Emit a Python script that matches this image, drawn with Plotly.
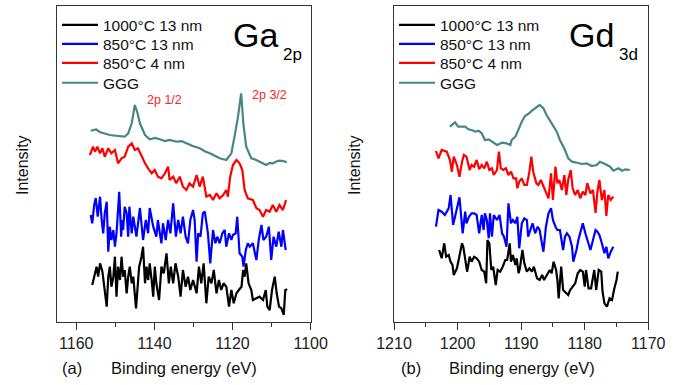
import plotly.graph_objects as go

# ---------------- data: panel (a) Ga 2p ----------------
ga_ggg_x = [1156.3, 1154.9, 1154.0, 1153.1, 1151.4, 1149.3, 1147.6, 1146.7, 1145.8, 1145.0, 1144.4, 1143.7,
            1142.4, 1141.2, 1139.8, 1138.6, 1137.3, 1136.1, 1134.3, 1133.0, 1131.8, 1130.2, 1128.4, 1127.0,
            1125.8, 1124.5, 1123.3, 1121.6, 1120.3, 1119.5, 1118.6, 1117.8, 1117.2, 1116.5, 1115.2, 1114.2,
            1113.1, 1111.4, 1110.5, 1109.7, 1108.8, 1108.0, 1107.0, 1106.1]
ga_ggg_y = [191.3, 192.5, 190.0, 188.7, 187.0, 186.0, 185.3, 188.7, 198.7, 217.0, 210.0, 198.7,
            187.0, 182.7, 184.0, 182.7, 181.0, 182.0, 180.3, 180.8, 178.7, 176.0, 173.7, 170.5,
            168.7, 166.0, 163.7, 162.0, 168.7, 185.3, 205.3, 228.7, 197.0, 175.3, 163.7, 162.5,
            160.3, 157.0, 159.0, 158.7, 160.5, 161.3, 160.8, 159.7]

ga_red_x = [1156.5, 1155.7, 1155.2, 1154.6, 1153.9, 1153.3, 1152.7, 1151.8, 1151.0, 1150.1, 1149.3, 1148.4,
            1147.6, 1146.7, 1145.8, 1145.0, 1144.2, 1143.3, 1142.4, 1141.6, 1140.7, 1139.9, 1139.1, 1138.2,
            1137.3, 1136.5, 1136.1, 1135.2, 1134.4, 1133.5, 1132.7, 1131.8, 1131.0, 1130.1, 1129.2, 1128.4,
            1127.6, 1126.7, 1125.8, 1125.0, 1124.1, 1123.3, 1122.4, 1121.6, 1121.2, 1120.6, 1119.9, 1119.0,
            1118.2, 1117.5, 1116.9, 1116.1, 1114.8, 1113.9, 1113.1, 1112.2, 1111.4, 1110.5, 1109.7, 1108.8,
            1108.0, 1107.1, 1106.3]
ga_red_y = [167.0, 175.3, 170.3, 175.3, 168.7, 173.7, 165.3, 173.7, 168.7, 172.0, 158.7, 163.7,
            165.3, 175.3, 178.7, 172.0, 173.7, 165.3, 158.7, 153.7, 148.7, 152.0, 145.3, 143.7,
            148.7, 155.3, 142.0, 145.3, 138.7, 145.3, 135.3, 132.0, 138.7, 135.3, 147.0, 135.3,
            145.3, 125.3, 127.0, 122.0, 128.7, 123.7, 127.0, 132.0, 125.3, 145.3, 157.0, 162.0,
            158.7, 152.0, 132.0, 123.7, 122.0, 113.7, 112.0, 105.3, 112.0, 110.3, 117.0, 110.3,
            117.0, 112.0, 122.0]

ga_blue_x = [1156.3, 1155.9, 1155.4, 1155.0, 1154.5, 1153.9, 1153.5, 1153.1, 1152.7, 1152.2, 1151.8, 1151.4,
             1151.0, 1150.5, 1150.1, 1149.7, 1149.3, 1149.0, 1148.5, 1148.2, 1148.0, 1147.6, 1147.1, 1146.7,
             1146.4, 1145.8, 1145.4, 1144.6, 1143.7, 1143.3, 1142.9, 1142.2, 1141.6, 1141.2, 1140.3, 1139.5,
             1139.1, 1138.6, 1138.2, 1137.8, 1137.1, 1136.5, 1135.9, 1135.2, 1134.5, 1133.9, 1133.3, 1132.7,
             1132.0, 1131.4, 1130.8, 1130.1, 1129.7, 1129.2, 1128.8, 1128.2, 1127.6, 1127.1, 1126.7, 1126.3,
             1125.7, 1125.0, 1124.4, 1123.9, 1123.3, 1122.6, 1122.0, 1121.6, 1120.9, 1120.3, 1119.9, 1119.2,
             1118.8, 1118.2, 1117.5, 1117.2, 1116.6, 1116.1, 1115.6, 1114.8, 1113.9, 1113.3, 1112.6, 1112.1,
             1111.4, 1110.7, 1110.1, 1109.5, 1108.8, 1108.2, 1107.5, 1107.1, 1106.4]
ga_blue_y = [107.0, 98.7, 117.0, 124.0, 105.3, 125.3, 102.0, 88.7, 108.7, 120.3, 70.3, 95.3,
             82.0, 92.0, 75.3, 88.7, 112.0, 130.3, 85.3, 102.0, 92.0, 115.3, 108.7, 85.3,
             115.3, 88.7, 105.3, 85.3, 114.0, 95.3, 82.0, 102.0, 88.7, 114.0, 95.3, 85.3,
             102.0, 88.7, 78.7, 98.7, 82.0, 102.0, 88.7, 118.7, 85.3, 102.0, 88.7, 105.3,
             85.3, 78.7, 102.0, 112.0, 102.0, 60.3, 88.7, 85.3, 108.7, 110.3, 98.7, 88.7,
             58.7, 92.0, 78.7, 85.3, 78.7, 88.7, 92.0, 75.3, 88.7, 82.0, 87.0, 88.7,
             105.3, 68.7, 65.3, 55.3, 72.0, 78.7, 75.3, 78.7, 62.0, 82.0, 97.0, 82.0,
             85.3, 95.3, 62.0, 85.3, 75.3, 90.3, 75.3, 92.0, 72.0]

ga_black_x = [1155.9, 1155.2, 1154.8, 1154.4, 1153.9, 1153.3, 1152.8, 1152.2, 1151.8, 1151.4, 1151.0, 1150.5,
              1150.1, 1149.7, 1149.3, 1148.8, 1148.4, 1148.0, 1147.6, 1147.1, 1146.7, 1146.3, 1145.8, 1145.4,
              1144.7, 1144.3, 1143.9, 1143.3, 1142.9, 1142.4, 1142.0, 1141.6, 1141.2, 1140.7, 1140.3, 1139.9,
              1139.5, 1138.8, 1138.2, 1137.6, 1136.9, 1136.3, 1135.8, 1135.2, 1134.6, 1133.9, 1133.3, 1132.7,
              1132.0, 1131.4, 1130.8, 1130.1, 1129.2, 1128.6, 1128.0, 1127.4, 1126.7, 1126.1, 1125.4, 1124.8,
              1124.1, 1123.5, 1122.9, 1122.3, 1121.6, 1120.9, 1120.3, 1119.7, 1119.0, 1118.4, 1117.7, 1117.3,
              1116.9, 1116.5, 1115.9, 1115.2, 1114.8, 1113.9, 1113.1, 1112.2, 1111.5, 1111.1, 1110.5, 1109.9,
              1109.2, 1108.7, 1108.1, 1107.5, 1106.9, 1106.5, 1106.0]
ga_black_y = [37.0, 50.3, 55.3, 45.3, 58.7, 50.3, 32.0, 15.3, 45.3, 55.3, 35.3, 45.3,
              65.3, 25.3, 55.3, 42.0, 65.3, 45.3, 52.0, 28.7, 45.3, 55.3, 38.7, 45.3,
              13.7, 38.7, 55.3, 65.3, 75.3, 38.7, 55.3, 42.0, 58.7, 42.0, 25.3, 55.3,
              38.7, 22.0, 55.3, 48.7, 68.7, 38.7, 55.3, 38.7, 58.7, 45.3, 25.3, 52.0,
              35.3, 45.3, 32.0, 42.0, 28.7, 55.3, 38.7, 58.7, 18.7, 45.3, 38.7, 52.0,
              28.7, 42.0, 32.0, 38.7, 35.3, 15.3, 32.0, 18.7, 28.7, 32.0, 35.3, 52.0,
              45.3, 58.7, 38.7, 32.0, 22.0, 23.7, 25.3, 22.0, 32.0, 15.3, 12.0, 32.0,
              45.3, 28.7, 15.3, 13.7, 7.0, 32.0, 32.7]

# ---------------- data: panel (b) Gd 3d ----------------
gd_ggg_x = [1201.2, 1200.4, 1199.9, 1198.8, 1198.3, 1197.8, 1197.2, 1196.7, 1196.2, 1195.7, 1195.1, 1194.4,
            1193.8, 1193.0, 1192.3, 1191.7, 1191.5, 1190.9, 1190.4, 1189.9, 1189.4, 1188.9, 1188.3, 1187.8,
            1187.1, 1186.5, 1186.0, 1185.2, 1184.4, 1183.9, 1183.1, 1182.6, 1182.0, 1181.2, 1180.4, 1179.7,
            1178.9, 1178.1, 1177.6, 1176.8, 1176.0, 1175.5, 1174.7, 1174.1, 1173.6, 1172.9]
gd_ggg_y = [195.3, 199.7, 195.3, 195.3, 192.7, 192.0, 190.3, 191.3, 188.7, 182.0, 182.7, 179.3,
            177.0, 179.3, 178.7, 177.0, 182.0, 185.3, 193.7, 200.3, 206.0, 208.0, 211.3, 213.7,
            217.0, 213.7, 207.0, 198.7, 190.3, 182.0, 172.0, 163.7, 160.3, 159.3, 158.0, 158.7,
            156.0, 157.0, 160.3, 158.0, 155.3, 151.3, 153.7, 151.3, 152.7, 152.0]

gd_red_x = [1203.4, 1203.0, 1202.5, 1201.7, 1201.2, 1200.9, 1200.6, 1200.1, 1199.7, 1199.3, 1199.0, 1198.6,
            1198.1, 1197.8, 1197.4, 1197.0, 1196.6, 1196.2, 1195.8, 1195.4, 1195.0, 1194.6, 1194.3, 1193.8,
            1193.5, 1193.2, 1192.8, 1192.4, 1192.0, 1191.6, 1191.2, 1190.8, 1190.6, 1190.3, 1189.9, 1189.5,
            1189.1, 1188.7, 1188.4, 1188.1, 1187.6, 1187.3, 1186.9, 1186.5, 1186.1, 1185.7, 1185.3, 1185.0,
            1184.6, 1184.3, 1184.0, 1183.6, 1183.2, 1182.9, 1182.6, 1182.2, 1181.9, 1181.5, 1181.1, 1180.7,
            1180.3, 1179.9, 1179.6, 1179.1, 1178.7, 1178.3, 1178.0, 1177.7, 1177.3, 1176.9, 1176.6, 1176.3,
            1175.9, 1175.5]
gd_red_y = [171.0, 163.7, 172.0, 170.3, 162.0, 150.3, 165.3, 157.0, 145.3, 160.3, 167.0, 165.3,
            152.0, 157.0, 155.3, 162.0, 152.7, 157.0, 153.7, 160.3, 152.0, 153.7, 147.0, 152.0,
            170.3, 153.7, 152.0, 153.7, 147.0, 150.3, 143.7, 143.7, 133.7, 140.3, 143.7, 137.0,
            137.0, 150.3, 165.3, 150.3, 138.7, 137.0, 142.0, 135.3, 128.7, 123.7, 148.7, 122.0,
            155.3, 138.7, 142.0, 132.0, 147.0, 127.0, 142.0, 152.0, 133.7, 127.0, 132.0, 123.7,
            130.3, 127.0, 138.7, 128.7, 132.0, 109.0, 130.3, 142.0, 122.0, 132.0, 106.0, 127.0,
            122.0, 125.3]

gd_blue_x = [1203.4, 1203.0, 1202.5, 1202.0, 1201.4, 1201.1, 1200.7, 1200.2, 1199.7, 1199.2, 1198.8, 1198.6,
             1198.2, 1197.8, 1197.4, 1197.0, 1196.6, 1196.2, 1195.9, 1195.7, 1195.4, 1195.1, 1194.9, 1194.6,
             1194.3, 1193.8, 1193.4, 1193.0, 1192.7, 1192.3, 1192.0, 1191.6, 1191.3, 1190.9, 1190.6, 1190.3,
             1189.9, 1189.5, 1189.1, 1188.9, 1188.5, 1188.2, 1187.8, 1187.4, 1187.1, 1186.7, 1186.5, 1186.1,
             1185.7, 1185.3, 1185.0, 1184.6, 1184.3, 1183.9, 1183.4, 1183.1, 1182.8, 1182.4, 1182.0, 1181.8,
             1181.3, 1181.0, 1180.7, 1180.3, 1179.9, 1179.6, 1179.1, 1178.7, 1178.3, 1178.0, 1177.7, 1177.3,
             1176.9, 1176.6, 1176.3, 1175.9, 1175.5]
gd_blue_y = [95.3, 112.0, 110.3, 107.0, 113.7, 127.0, 97.0, 110.3, 124.7, 88.7, 110.3, 98.7,
             105.3, 108.7, 108.7, 107.0, 88.7, 107.0, 92.0, 108.7, 102.0, 83.7, 108.7, 85.3,
             107.0, 102.0, 107.0, 88.7, 85.3, 75.3, 118.7, 98.7, 102.0, 98.7, 105.3, 73.7,
             98.7, 103.7, 102.0, 85.3, 92.0, 98.7, 88.7, 95.3, 92.0, 78.7, 70.3, 95.3,
             108.7, 113.7, 102.0, 95.3, 92.0, 92.0, 72.0, 85.3, 88.7, 85.3, 75.3, 60.3,
             72.0, 82.0, 88.7, 98.7, 88.7, 82.0, 72.0, 82.0, 92.0, 90.3, 87.0, 78.7,
             68.7, 75.3, 63.7, 70.3, 75.3]

gd_black_x = [1202.9, 1202.5, 1202.1, 1201.8, 1201.4, 1201.1, 1200.8, 1200.6, 1200.1, 1199.7, 1199.3, 1199.1,
              1198.8, 1198.5, 1198.1, 1197.8, 1197.4, 1197.0, 1196.6, 1196.2, 1195.8, 1195.5, 1195.3, 1195.0,
              1194.7, 1194.4, 1194.0, 1193.7, 1193.3, 1192.9, 1192.5, 1192.2, 1191.8, 1191.6, 1191.3, 1190.9,
              1190.7, 1190.4, 1190.2, 1189.8, 1189.5, 1189.1, 1188.7, 1188.3, 1188.0, 1187.5, 1187.1, 1186.7,
              1186.4, 1186.0, 1185.5, 1185.2, 1184.9, 1184.5, 1184.3, 1184.1, 1183.7, 1183.4, 1183.1, 1182.6,
              1182.3, 1181.9, 1181.5, 1181.1, 1180.7, 1180.3, 1180.0, 1179.8, 1179.4, 1179.0, 1178.7, 1178.5,
              1178.2, 1177.8, 1177.4, 1177.2, 1176.9, 1176.5, 1176.1, 1175.7, 1175.4, 1175.0, 1174.8]
gd_black_y = [72.0, 63.7, 78.7, 65.3, 67.0, 60.3, 57.0, 47.0, 53.7, 67.0, 78.7, 75.3,
              62.0, 50.3, 65.3, 60.3, 65.3, 63.7, 60.3, 52.0, 50.3, 38.7, 82.0, 78.7,
              52.0, 55.3, 37.0, 52.0, 50.3, 55.3, 62.0, 62.0, 78.7, 60.3, 67.0, 57.0,
              63.7, 48.7, 53.7, 72.0, 58.7, 50.3, 53.7, 50.3, 55.3, 43.7, 42.0, 47.0,
              42.0, 47.0, 52.0, 48.7, 60.3, 52.0, 42.0, 23.7, 55.3, 32.0, 30.3, 27.0,
              32.0, 35.3, 38.7, 48.7, 52.0, 50.3, 35.3, 52.0, 33.7, 33.7, 45.3, 52.0,
              32.0, 52.0, 50.3, 30.3, 18.7, 15.3, 23.7, 22.0, 32.0, 42.0, 50.3]

series_names = ["1000°C 13 nm", "850°C 13 nm", "850°C 4 nm", "GGG"]
series_colors = ["#000000", "#0000ff", "#ff0000", "#468784"]
peak_labels = ["2p 1/2", "2p 3/2"]
peak_label_x = [1137.5, 1110.6]
peak_label_y = [222, 227]

FONT = "Arial, Liberation Sans, sans-serif"
W, H = 681, 385


def px_x(p):
    return p / W


def px_y(p):
    return 1 - p / H


fig = go.Figure()
panel_a = [(ga_black_x, ga_black_y), (ga_blue_x, ga_blue_y), (ga_red_x, ga_red_y), (ga_ggg_x, ga_ggg_y)]
panel_b = [(gd_black_x, gd_black_y), (gd_blue_x, gd_blue_y), (gd_red_x, gd_red_y), (gd_ggg_x, gd_ggg_y)]

# one single-entry legend per series so the rows can sit as tightly as in the reference
row_tops = [8.2, 27.2, 46.2, 66.2]
legend_layout = {}
for p, (panel, xa, ya, lx) in enumerate([(panel_a, "x", "y", 57), (panel_b, "x2", "y2", 394)]):
    for i, (x, y) in enumerate(panel):
        k = p * 4 + i + 1
        lname = "legend" if k == 1 else f"legend{k}"
        fig.add_trace(go.Scatter(x=x, y=y, mode="lines", name=series_names[i],
                                 line=dict(color=series_colors[i], width=2.2),
                                 xaxis=xa, yaxis=ya, legend=lname))
        legend_layout[lname] = dict(x=px_x(lx), y=px_y(row_tops[i]), xanchor="left", yanchor="top",
                                    bgcolor="rgba(0,0,0,0)", borderwidth=0,
                                    font=dict(family=FONT, size=15.5, color="#111111"),
                                    itemwidth=36, tracegroupgap=0)

ydom = [px_y(321.7), px_y(5.7)]
axis_common = dict(showline=True, mirror=True, linecolor="#333333", linewidth=1.3,
                   showgrid=False, zeroline=False, automargin=False,
                   tickfont=dict(family=FONT, size=16, color="#222222"))
fig.update_layout(
    template="none",
    width=W, height=H, margin=dict(l=0, r=0, t=0, b=0, pad=0, autoexpand=False),
    paper_bgcolor="white", plot_bgcolor="white",
    font=dict(family=FONT, size=16, color="#111111"),
    xaxis=dict(domain=[px_x(56.7), px_x(310.7)], range=[1165, 1100], anchor="y",
               ticks="outside", ticklen=7, tickwidth=1.2, tickcolor="#333333",
               tick0=1100, dtick=20,
               minor=dict(ticks="outside", ticklen=4, dtick=10, tick0=1100, tickcolor="#333333"),
               **axis_common),
    yaxis=dict(domain=ydom, range=[0.3, 316.3], anchor="x", showticklabels=False, ticks="",
               **axis_common),
    xaxis2=dict(domain=[px_x(394.0), px_x(648.3)], range=[1210, 1170], anchor="y2",
                ticks="outside", ticklen=7, tickwidth=1.2, tickcolor="#333333",
                tick0=1170, dtick=10,
                minor=dict(ticks="outside", ticklen=4, dtick=5, tick0=1170, tickcolor="#333333"),
                **axis_common),
    yaxis2=dict(domain=ydom, range=[0.3, 316.3], anchor="x2", showticklabels=False, ticks="",
                **axis_common),
    showlegend=True,
    **legend_layout,
)

ann = []
# big element labels
ann.append(dict(text="Ga", x=px_x(231), y=px_y(35), xref="paper", yref="paper",
                xanchor="left", yanchor="middle", showarrow=False, font=dict(family=FONT, size=34, color="#000")))
ann.append(dict(text="2p", x=px_x(281), y=px_y(55), xref="paper", yref="paper",
                xanchor="left", yanchor="middle", showarrow=False, font=dict(family=FONT, size=17, color="#000")))
ann.append(dict(text="Gd", x=px_x(567), y=px_y(35), xref="paper", yref="paper",
                xanchor="left", yanchor="middle", showarrow=False, font=dict(family=FONT, size=34, color="#000")))
ann.append(dict(text="3d", x=px_x(617), y=px_y(55), xref="paper", yref="paper",
                xanchor="left", yanchor="middle", showarrow=False, font=dict(family=FONT, size=17, color="#000")))
# peak labels
for t, xv, yv in zip(peak_labels, peak_label_x, peak_label_y):
    ann.append(dict(text=t, x=xv, y=yv, xref="x", yref="y", showarrow=False,
                    xanchor="center", yanchor="middle",
                    font=dict(family=FONT, size=12.5, color="#ff2020")))
# y titles
for xp in [22, 354]:
    ann.append(dict(text="Intensity", x=px_x(xp), y=px_y(165), xref="paper", yref="paper",
                    xanchor="center", yanchor="middle",
                    textangle=-90, showarrow=False, font=dict(family=FONT, size=16, color="#111")))
# x titles and panel letters
for xc in [184.4, 522]:
    ann.append(dict(text="Binding energy (eV)", x=px_x(xc), y=px_y(368), xref="paper", yref="paper",
                    xanchor="center", yanchor="middle",
                    showarrow=False, font=dict(family=FONT, size=16.5, color="#111")))
for t, xc in [("(a)", 71.5), ("(b)", 411)]:
    ann.append(dict(text=t, x=px_x(xc), y=px_y(368), xref="paper", yref="paper",
                    xanchor="center", yanchor="middle",
                    showarrow=False, font=dict(family=FONT, size=16.5, color="#111")))
fig.update_layout(annotations=ann)

fig.write_html("out.html")
